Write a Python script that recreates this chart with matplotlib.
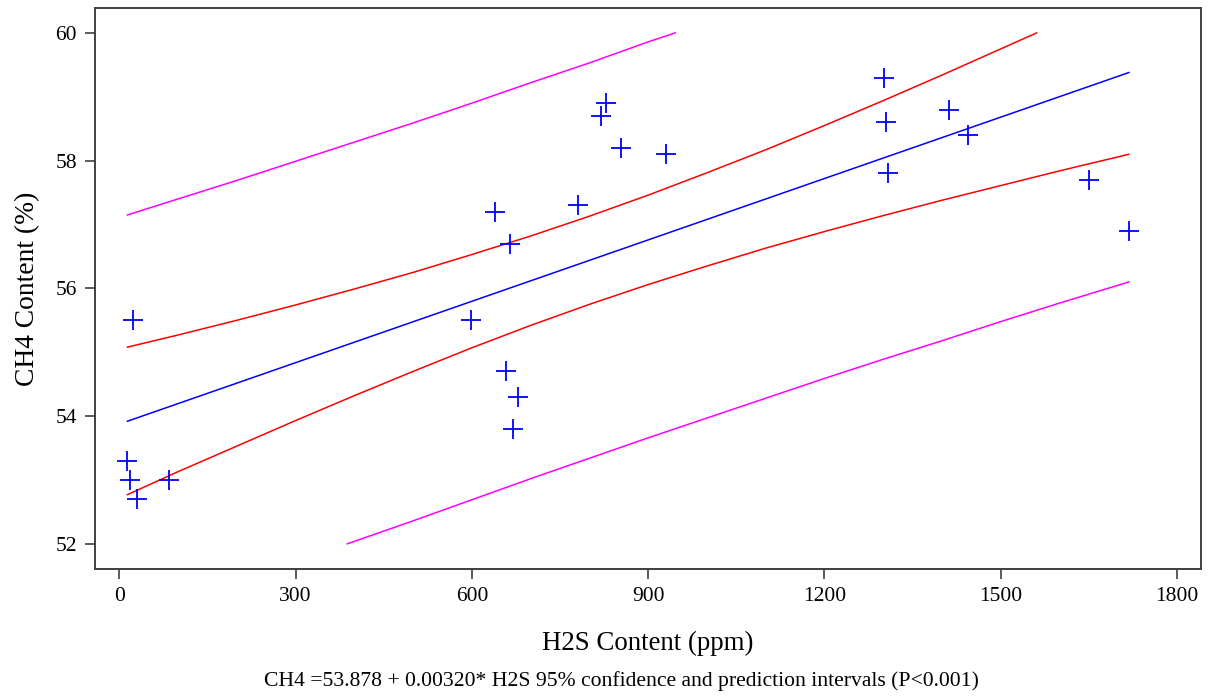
import numpy as np
import matplotlib
matplotlib.use('Agg')
import matplotlib.pyplot as plt

plt.rcParams['font.family'] = ['Liberation Serif', 'DejaVu Serif']

# measured points
h2s = [23, 14, 18, 31, 85, 828, 820, 854, 930, 780, 639, 665, 598,
       658, 679, 670, 1302, 1304, 1308, 1412, 1444, 1650, 1718]
ch4 = [55.5, 53.3, 53.0, 52.7, 53.0, 58.9, 58.7, 58.2, 58.1, 57.3, 57.2, 56.7, 55.5,
       54.7, 54.3, 53.8, 59.3, 58.6, 57.8, 58.8, 58.4, 57.7, 56.9]

# fitted line and bands
fit_x = [14, 1718]
fit_y = [53.92, 59.38]

ci_up_x = [14, 100, 200, 300, 400, 500, 600, 700, 800, 900, 1000,
           1100, 1200, 1300, 1400, 1500, 1561]
ci_up_y = [55.08, 55.27, 55.50, 55.74, 55.99, 56.25, 56.53, 56.82, 57.13, 57.46, 57.81,
           58.17, 58.55, 58.94, 59.34, 59.75, 60.0]
ci_lo_x = [14, 100, 200, 300, 400, 500, 600, 700, 800, 900, 1000,
           1100, 1200, 1300, 1400, 1500, 1600, 1700, 1718]
ci_lo_y = [52.77, 53.13, 53.53, 53.93, 54.32, 54.70, 55.07, 55.42, 55.75, 56.06, 56.35,
           56.63, 56.89, 57.14, 57.38, 57.61, 57.84, 58.06, 58.10]

pi_up_x = [14, 100, 200, 300, 400, 500, 600, 700, 800, 900, 946]
pi_up_y = [57.15, 57.40, 57.69, 57.99, 58.29, 58.59, 58.90, 59.22, 59.53, 59.86, 60.0]
pi_lo_x = [388, 500, 600, 700, 800, 900, 1000, 1100, 1200, 1300, 1400, 1500, 1600, 1700, 1718]
pi_lo_y = [52.0, 52.36, 52.69, 53.02, 53.34, 53.66, 53.97, 54.28, 54.59, 54.89, 55.18,
           55.48, 55.77, 56.05, 56.10]

x_ticks = [0, 300, 600, 900, 1200, 1500, 1800]
y_ticks = [52, 54, 56, 58, 60]

fig = plt.figure(figsize=(12.11, 6.97), dpi=100)
ax = fig.add_axes([0.0784, 0.184, 0.9133, 0.8045])

ax.plot(fit_x, fit_y, color='#0000ff', lw=1.1)
ax.plot(ci_up_x, ci_up_y, color='#ff0000', lw=1.1)
ax.plot(ci_lo_x, ci_lo_y, color='#ff0000', lw=1.1)
ax.plot(pi_up_x, pi_up_y, color='#ff00ff', lw=1.1)
ax.plot(pi_lo_x, pi_lo_y, color='#ff00ff', lw=1.1)
ax.plot(h2s, ch4, linestyle='none', marker='+', markersize=15, markeredgewidth=1.3,
        color='#0000ff')

ax.set_xlim(-41.3, 1840.6)
ax.set_ylim(51.61, 60.39)
ax.set_xticks(x_ticks)
ax.set_yticks(y_ticks)
ax.tick_params(direction='out', length=7, width=1.2, color='#404040',
               labelsize=15.5, pad=6)
for s in ax.spines.values():
    s.set_color('#404040')
    s.set_linewidth(1.4)

ax.set_xlabel('H2S Content (ppm)', fontsize=19.4, labelpad=18)
ax.set_ylabel('CH4 Content (%)', fontsize=19.8, labelpad=11)

fig.text(0.513, 0.023, 'CH4 =53.878 + 0.00320* H2S 95% confidence and prediction intervals (P<0.001)',
         ha='center', va='center', fontsize=15.6)

fig.savefig('out.png', dpi=100)
